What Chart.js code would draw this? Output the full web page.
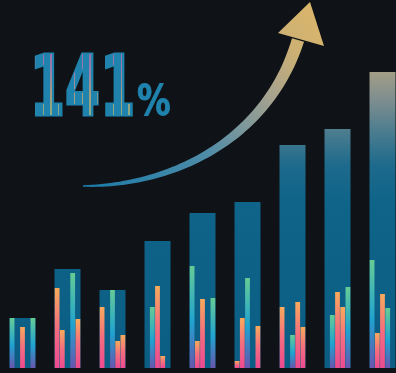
<!DOCTYPE html>
<html>
<head>
<meta charset="utf-8">
<script src="https://cdn.jsdelivr.net/npm/chart.js@4/dist/chart.umd.min.js"></script>
<style>
  html, body { margin: 0; padding: 0; background: #0f1216; overflow: hidden; }
  #wrap { position: relative; width: 396px; height: 373px; overflow: hidden; }
  canvas { position: absolute; left: 0; top: 0; }
  .big { position: absolute; font-family: "DejaVu Sans", sans-serif; font-weight: bold;
         line-height: 1; white-space: nowrap; transform-origin: 0 0; }
  .big .fill { position: relative; display: inline-block; color: #1f83ad;
    -webkit-text-stroke: 3px #1f83ad; }
  .big .stripes { position: absolute; left: 0; top: 0; display: inline-block; color: transparent;
    background: linear-gradient(to bottom, #e2579b 0%, #d67ab0 30%, #e9a866 60%, #a7d27c 100%);
    -webkit-background-clip: text; background-clip: text;
    -webkit-mask-image: repeating-linear-gradient(90deg, transparent 0 8px, #000 8px 10px, transparent 10px 13px);
    mask-image: repeating-linear-gradient(90deg, transparent 0 8px, #000 8px 10px, transparent 10px 13px);
    opacity: 0.65; }
</style>
</head>
<body>
<div id="wrap">
  <canvas id="c" width="405" height="373"></canvas>
  <div class="big" style="left:30px; top:44px; font-size:84px; transform:scaleX(0.6);">
    <span class="fill">141</span><span class="stripes">141</span>
  </div>
  <div class="big" style="left:137px; top:80px; font-size:42px; transform:scaleX(0.8);">
    <span class="fill" style="-webkit-text-stroke:1px #1f83ad">%</span>
  </div>
</div>
<script>
// categories and values (big bars)
const labels = ['2016', '2017', '2018', '2019', '2020', '2021', '2022', '2023', '2024'];
const totals = [50, 99, 78, 127, 155, 166, 223, 239, 296];

// thin inner bars, five slots per category (null = empty slot)
const slot1 = [50, 80, 61, null, 102, 7, 61, null, 108];
const slot2 = [null, 38, null, 61, 27, 50, null, 53, 35];
const slot3 = [41, null, 78, 82, 69, 90, 33, 76, 74];
const slot4 = [null, 95, 27, 12, null, null, 66, 61, 60];
const slot5 = [50, 49, 33, null, 70, 42, 41, 81, null];

// colour kind of each inner bar: 'c' = cool (purple->cyan->green), 'w' = warm (pink->orange)
const kind1 = ['c', 'w', 'w', '', 'c', 'w', 'w', '', 'c'];
const kind2 = ['', 'w', '', 'c', 'w', 'w', '', 'c', 'w'];
const kind3 = ['w', '', 'c', 'w', 'w', 'c', 'c', 'w', 'w'];
const kind4 = ['', 'c', 'w', 'w', '', '', 'w', 'w', 'c'];
const kind5 = ['c', 'w', 'w', '', 'c', 'w', 'w', 'c', ''];

const yMax = 368;

function bigBarColor(context) {
  const chart = context.chart;
  const area = chart.chartArea;
  if (!area || !isFinite(area.top) || !isFinite(area.bottom)) return '#0f6489';
  const g = chart.ctx.createLinearGradient(0, area.top, 0, area.bottom);
  g.addColorStop(0.0, '#c9b47c');
  g.addColorStop(0.19, '#a59f86');
  g.addColorStop(0.27, '#7f8e8f');
  g.addColorStop(0.36, '#4a7c8f');
  g.addColorStop(0.45, '#1d6a8c');
  g.addColorStop(0.55, '#0f6489');
  g.addColorStop(1.0, '#0b5d84');
  return g;
}

function innerColor(kinds) {
  return (context) => {
    const v = context.raw;
    const y = context.chart.scales.y;
    if (v == null || !y) return 'rgba(0,0,0,0)';
    const y0 = y.getPixelForValue(0);
    const y1 = y.getPixelForValue(v);
    const cool = kinds[context.dataIndex] === 'c';
    if (!isFinite(y0) || !isFinite(y1) || y0 === y1) return cool ? '#20a2d0' : '#f46d7e';
    const g = context.chart.ctx.createLinearGradient(0, y0, 0, y1);
    if (cool) {
      g.addColorStop(0, '#6b55ad');
      g.addColorStop(0.45, '#20a2d0');
      g.addColorStop(1, '#66cc95');
    } else {
      g.addColorStop(0, '#ec4a90');
      g.addColorStop(0.5, '#f46d7e');
      g.addColorStop(1, '#f8aa5c');
    }
    return g;
  };
}

// decorative curved arrow
const arrowPlugin = {
  id: 'arrow',
  beforeDatasetsDraw(chart) {
    const ctx = chart.ctx;
    const P = [[83, 186], [175, 186], [268, 138], [298, 40]];
    const bez = (t, i) => {
      const u = 1 - t;
      return u * u * u * P[0][i] + 3 * u * u * t * P[1][i] + 3 * u * t * t * P[2][i] + t * t * t * P[3][i];
    };
    const der = (t, i) => {
      const u = 1 - t;
      return 3 * u * u * (P[1][i] - P[0][i]) + 6 * u * t * (P[2][i] - P[1][i]) + 3 * t * t * (P[3][i] - P[2][i]);
    };
    const left = [], right = [];
    const n = 60;
    for (let k = 0; k <= n; k++) {
      const t = k / n;
      const x = bez(t, 0), y = bez(t, 1);
      const dx = der(t, 0), dy = der(t, 1);
      const len = Math.hypot(dx, dy) || 1;
      const nx = -dy / len, ny = dx / len;
      const hw = 0.7 + 5.6 * Math.pow(t, 0.8);
      left.push([x + nx * hw, y + ny * hw]);
      right.push([x - nx * hw, y - ny * hw]);
    }
    const g = ctx.createLinearGradient(83, 186, 310, 2);
    g.addColorStop(0, '#1a7aa8');
    g.addColorStop(0.4, '#4f8ca8');
    g.addColorStop(0.68, '#a2a190');
    g.addColorStop(0.85, '#ccb074');
    g.addColorStop(1, '#dab66a');
    ctx.save();
    ctx.fillStyle = g;
    ctx.beginPath();
    left.forEach((p, i) => (i ? ctx.lineTo(p[0], p[1]) : ctx.moveTo(p[0], p[1])));
    for (let i = right.length - 1; i >= 0; i--) ctx.lineTo(right[i][0], right[i][1]);
    ctx.closePath();
    ctx.fill();
    ctx.beginPath();
    ctx.moveTo(310, 2);
    ctx.lineTo(278, 33);
    ctx.lineTo(324, 46);
    ctx.closePath();
    ctx.fill();
    ctx.restore();
  }
};

const slots = [slot1, slot2, slot3, slot4, slot5];
const kinds = [kind1, kind2, kind3, kind4, kind5];

// the big bar sits behind, not grouped, so it is centred in its category
const datasets = [{
  label: 'total',
  data: totals,
  order: 1,
  grouped: false,
  backgroundColor: bigBarColor,
  categoryPercentage: 1,
  barPercentage: 0.578
}];
slots.forEach((s, i) => {
  datasets.push({
    label: 'slot' + (i + 1),
    data: s,
    order: 0,
    backgroundColor: innerColor(kinds[i]),
    categoryPercentage: 0.578,
    barPercentage: 0.92
  });
});

new Chart(document.getElementById('c'), {
  type: 'bar',
  data: { labels: labels, datasets: datasets },
  options: {
    responsive: false,
    animation: false,
    devicePixelRatio: 1,
    layout: { padding: { top: 0, bottom: 5, left: 0, right: 0 } },
    plugins: { legend: { display: false }, tooltip: { enabled: false } },
    scales: {
      x: { display: false },
      y: { display: false, min: 0, max: yMax }
    }
  },
  plugins: [arrowPlugin]
});
</script>
</body>
</html>
